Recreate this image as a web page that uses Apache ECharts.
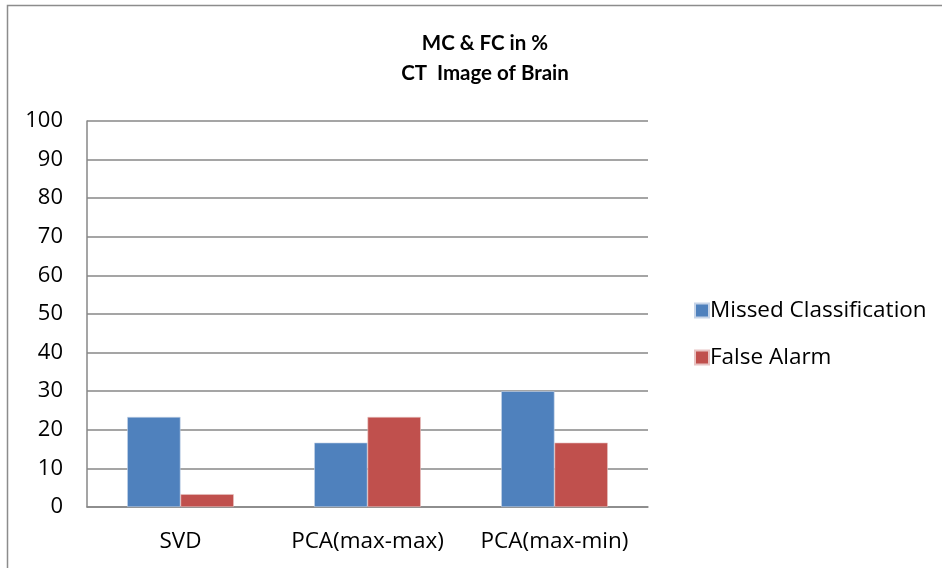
<!DOCTYPE html>
<html><head><meta charset="utf-8">
<script src="https://cdn.jsdelivr.net/npm/echarts@6/dist/echarts.min.js"></script>
<style>html,body{margin:0;padding:0;background:#fff}#c{width:942px;height:568px}</style>
</head><body><div id="c"></div>
<script>
const categories = ['SVD', 'PCA(max-max)', 'PCA(max-min)'];
const missedClassification = [23.33, 16.67, 30];
const falseAlarm = [3.33, 23.33, 16.67];
const yTicks = [0, 10, 20, 30, 40, 50, 60, 70, 80, 90, 100];
const titleLines = ['MC & FC in %', 'CT  Image of Brain'];
const seriesNames = ['Missed Classification', 'False Alarm'];

const FONT = 'Open Sans';
const chart = echarts.init(document.getElementById('c'), null, {renderer: 'canvas'});
chart.setOption({
  animation: false,
  backgroundColor: '#fff',
  textStyle: {fontFamily: FONT},
  title: {
    text: titleLines.join('\n'),
    left: 480, top: 23, textAlign: 'center',
    textStyle: {fontFamily: 'Lato', fontSize: 20.5, fontWeight: 'bold', color: '#000', lineHeight: 30}
  },
  legend: {
    orient: 'vertical', left: 689, top: 294,
    itemWidth: 14, itemHeight: 14, itemGap: 24,
    icon: 'rect',
    textStyle: {fontFamily: FONT, fontSize: 22.5, lineHeight: 22, color: '#000', padding: [0,0,0,-4]},
    data: seriesNames
  },
  graphic: [{
    type: 'polyline', silent: true,
    shape: {points: [[7.5, 568], [7.5, 5.5], [942, 5.5]]},
    style: {stroke: '#8c8c8c', lineWidth: 1.5, fill: null}
  }],
  grid: {left: 87, right: 294, top: 121, bottom: 61, containLabel: false},
  xAxis: {
    type: 'category', data: categories,
    axisLine: {lineStyle: {color: '#878787', width: 1.5}},
    axisTick: {show: false},
    axisLabel: {fontFamily: FONT, fontSize: 22.5, color: '#000', margin: 23, interval: 0, hideOverlap: false}
  },
  yAxis: {
    type: 'value', min: yTicks[0], max: yTicks[yTicks.length-1], interval: 10,
    axisLine: {show: true, lineStyle: {color: '#878787', width: 1.5}},
    axisTick: {show: false},
    splitLine: {lineStyle: {color: '#878787', width: 1.5}},
    axisLabel: {fontFamily: FONT, fontSize: 22, color: '#000', margin: 24}
  },
  series: [
    {name: seriesNames[0], type: 'bar', data: missedClassification, barGap: '0%', barCategoryGap: '43%',
     itemStyle: {color: '#4F81BD', borderColor: '#c6d4e8', borderWidth: 0.6}},
    {name: seriesNames[1], type: 'bar', data: falseAlarm, barGap: '0%', barCategoryGap: '43%',
     itemStyle: {color: '#C0504D', borderColor: '#e8c4c3', borderWidth: 0.6}}
  ]
});
</script></body></html>
